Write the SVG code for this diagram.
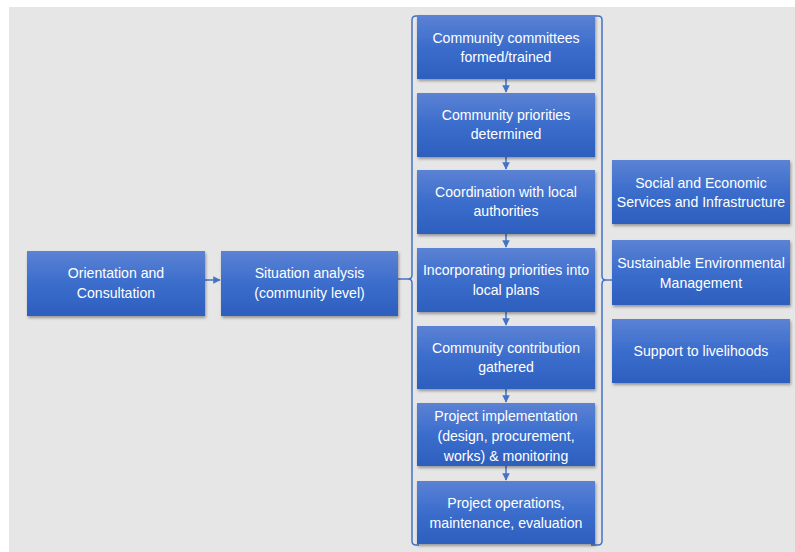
<svg xmlns="http://www.w3.org/2000/svg" width="795" height="552" viewBox="0 0 795 552">
  <style>
    .box { fill: url(#boxFill); filter: url(#shadow); }
    .lbl { font-family: "Liberation Sans", Arial, sans-serif; font-size: 14.1px; fill: #ffffff; text-anchor: middle; }
    .line { fill: none; stroke: #4472c4; stroke-width: 1.5; }
  </style>
  <defs>
    <linearGradient id="boxFill" x1="0" y1="0" x2="0" y2="1">
      <stop offset="0" stop-color="#5b82d4"/>
      <stop offset="0.5" stop-color="#3b6dcc"/>
      <stop offset="1" stop-color="#2d5fbe"/>
    </linearGradient>
    <filter id="shadow" x="-10%" y="-10%" width="120%" height="130%">
      <feDropShadow dx="1" dy="2" stdDeviation="1.5" flood-color="#000000" flood-opacity="0.35"/>
    </filter>
    <marker id="arrow" viewBox="0 0 10 10" refX="9" refY="5" markerWidth="5" markerHeight="5" orient="auto">
      <path d="M0,0 L10,5 L0,10 Z" fill="#4472c4"/>
    </marker>
  </defs>

  <!-- canvas -->
  <rect x="0" y="0" width="795" height="552" fill="#ffffff"/>
  <rect x="9" y="7" width="786" height="545" fill="#e6e6e6"/>

  <!-- connectors -->
  <g id="connectors">
    <line class="line" x1="205" y1="280" x2="220" y2="280" marker-end="url(#arrow)"/>
    <line class="line" x1="398" y1="279" x2="408" y2="279"/>
    <!-- left brace -->
    <path class="line" d="M419,16 L416,16 Q412,16 412,20 L412,275 Q412,279 408,279 Q412,279 412,283 L412,541 Q412,545 416,545 L419,545"/>
    <!-- right brace -->
    <path class="line" d="M591,16 L598,16 Q602,16 602,20 L602,276 Q602,280 606,280 Q602,280 602,284 L602,541 Q602,545 598,545 L591,545"/>
    <line class="line" x1="606" y1="280" x2="612" y2="280"/>
    <!-- column steps -->
    <line class="line" x1="506" y1="79" x2="506" y2="92" marker-end="url(#arrow)"/>
    <line class="line" x1="506" y1="157" x2="506" y2="169" marker-end="url(#arrow)"/>
    <line class="line" x1="506" y1="234" x2="506" y2="247" marker-end="url(#arrow)"/>
    <line class="line" x1="506" y1="312" x2="506" y2="325" marker-end="url(#arrow)"/>
    <line class="line" x1="506" y1="389" x2="506" y2="402" marker-end="url(#arrow)"/>
    <line class="line" x1="506" y1="466" x2="506" y2="480" marker-end="url(#arrow)"/>
  </g>

  <g id="orientation">
    <rect class="box" x="27" y="251" width="178" height="65"/>
    <text class="lbl" x="116" y="278">Orientation and</text>
    <text class="lbl" x="116" y="298">Consultation</text>
  </g>
  <g id="situation">
    <rect class="box" x="221" y="251" width="177" height="65"/>
    <text class="lbl" x="309.5" y="278">Situation analysis</text>
    <text class="lbl" x="309.5" y="298">(community level)</text>
  </g>

  <g id="committees">
    <rect class="box" x="417" y="15" width="178" height="64"/>
    <text class="lbl" x="506" y="43">Community committees</text>
    <text class="lbl" x="506" y="62">formed/trained</text>
  </g>
  <g id="priorities">
    <rect class="box" x="417" y="93" width="178" height="64"/>
    <text class="lbl" x="506" y="120">Community priorities</text>
    <text class="lbl" x="506" y="139">determined</text>
  </g>
  <g id="coordination">
    <rect class="box" x="417" y="170" width="178" height="64"/>
    <text class="lbl" x="506" y="197">Coordination with local</text>
    <text class="lbl" x="506" y="216">authorities</text>
  </g>
  <g id="incorporating">
    <rect class="box" x="417" y="248" width="178" height="64"/>
    <text class="lbl" x="506" y="275">Incorporating priorities into</text>
    <text class="lbl" x="506" y="295">local plans</text>
  </g>
  <g id="contribution">
    <rect class="box" x="417" y="326" width="178" height="63"/>
    <text class="lbl" x="506" y="353">Community contribution</text>
    <text class="lbl" x="506" y="372">gathered</text>
  </g>
  <g id="implementation">
    <rect class="box" x="417" y="403" width="178" height="63"/>
    <text class="lbl" x="506" y="421">Project implementation</text>
    <text class="lbl" x="506" y="441">(design, procurement,</text>
    <text class="lbl" x="506" y="461">works) &amp; monitoring</text>
  </g>
  <g id="operations">
    <rect class="box" x="417" y="481" width="178" height="63"/>
    <text class="lbl" x="506" y="508">Project operations,</text>
    <text class="lbl" x="506" y="528">maintenance, evaluation</text>
  </g>

  <g id="social">
    <rect class="box" x="612" y="160" width="178" height="64"/>
    <text class="lbl" x="701" y="188">Social and Economic</text>
    <text class="lbl" x="701" y="207">Services and Infrastructure</text>
  </g>
  <g id="environment">
    <rect class="box" x="612" y="240" width="178" height="65"/>
    <text class="lbl" x="701" y="268">Sustainable Environmental</text>
    <text class="lbl" x="701" y="288">Management</text>
  </g>
  <g id="livelihoods">
    <rect class="box" x="612" y="319" width="178" height="64"/>
    <text class="lbl" x="701" y="356">Support to livelihoods</text>
  </g>
</svg>
